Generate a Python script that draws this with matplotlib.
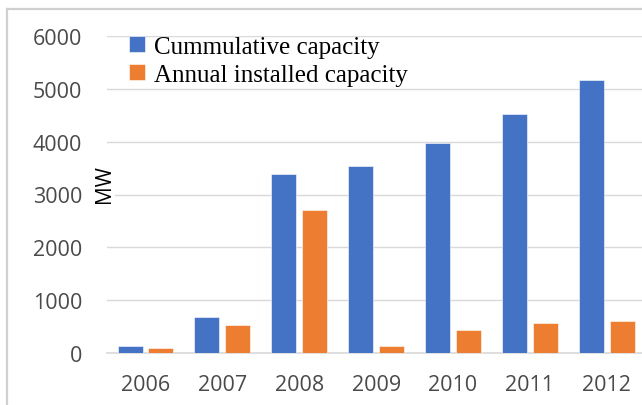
import matplotlib.pyplot as plt
import numpy as np
from matplotlib.lines import Line2D

years = ['2006', '2007', '2008', '2009', '2010', '2011', '2012']
cumulative = [140, 680, 3390, 3530, 3970, 4530, 5160]
annual = [95, 540, 2710, 140, 445, 565, 605]

blue = '#4472C4'
orange = '#ED7D31'

fig = plt.figure(figsize=(6.42, 4.06), dpi=100)
# plot area runs a little past the right edge of the image
ax = fig.add_axes([107 / 642, 51.7 / 406, 538.3 / 642, 317.6 / 406])

x = np.arange(len(years))
w = 0.325
off = 0.2
ax.bar(x - off, cumulative, w, color=blue, edgecolor='white', linewidth=0.4,
       label='Cummulative capacity', zorder=3)
ax.bar(x + off, annual, w, color=orange, edgecolor='white', linewidth=0.4,
       label='Annual installed capacity', zorder=3)

ax.set_xlim(-0.5, len(years) - 0.5)
ax.set_ylim(0, 6000)
ax.set_yticks(range(0, 6001, 1000))
ax.set_xticks(x)
ax.set_xticklabels(years)
ax.grid(axis='y', color='#D9D9D9', linewidth=1.0, zorder=0)
for s in ['top', 'right', 'left']:
    ax.spines[s].set_visible(False)
ax.spines['bottom'].set_color('#D9D9D9')
ax.spines['bottom'].set_linewidth(1.2)
ax.tick_params(length=0, colors='#4a4a4a', labelsize=15.5)
ax.tick_params(axis='y', pad=18)
ax.tick_params(axis='x', pad=15)
for lbl in ax.get_xticklabels() + ax.get_yticklabels():
    lbl.set_fontfamily('Open Sans')

fig.text(104 / 642, 1 - 184 / 406, 'MW', rotation=90, ha='center', va='center',
         fontsize=15, family='Open Sans', color='black',
         bbox=dict(facecolor='white', edgecolor='none', pad=0.5))

leg = ax.legend(loc='upper left', bbox_to_anchor=(0.023, 1.03), frameon=False,
                prop={'family': 'Liberation Serif', 'size': 18},
                handlelength=0.62, handleheight=0.62, handletextpad=0.35,
                labelspacing=0.22, borderaxespad=0)

# outer chart border (left and top edges visible)
fig.add_artist(Line2D([7 / 642, 7 / 642], [0, 1 - 9.5 / 406], color='#D0D0D0',
                      linewidth=1.6, transform=fig.transFigure))
fig.add_artist(Line2D([7 / 642, 1], [1 - 9.5 / 406, 1 - 9.5 / 406], color='#D0D0D0',
                      linewidth=1.6, transform=fig.transFigure))

fig.savefig('out.png', dpi=100)
